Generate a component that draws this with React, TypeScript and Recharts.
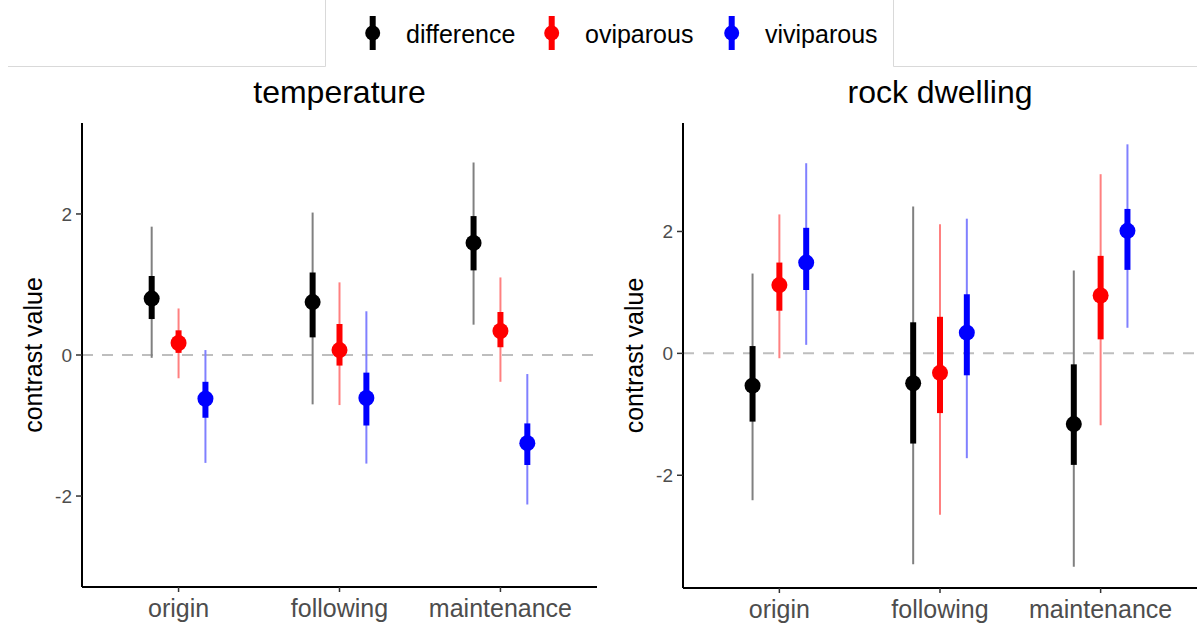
import React from 'react';
import { ErrorBar, ReferenceLine, Scatter, ScatterChart, XAxis, YAxis } from 'recharts';

const FONT = '"Liberation Sans", Arial, Helvetica, sans-serif';

const categories = ['origin', 'following', 'maintenance'];
const groups = ['difference', 'oviparous', 'viviparous'];
const groupColors = ['#000000', '#ff0000', '#0000ff'];
const thinColors = ['#808080', '#ff8080', '#8080ff'];
const yTicks = [-2, 0, 2];

// per category: [estimate, low50, high50, low95, high95]
const tempDifference = [
  [0.8, 0.51, 1.12, -0.04, 1.82],
  [0.75, 0.25, 1.17, -0.7, 2.02],
  [1.59, 1.2, 1.97, 0.43, 2.73],
];
const tempOviparous = [
  [0.17, 0.03, 0.35, -0.33, 0.66],
  [0.07, -0.15, 0.44, -0.71, 1.03],
  [0.34, 0.11, 0.61, -0.38, 1.1],
];
const tempViviparous = [
  [-0.62, -0.89, -0.38, -1.53, 0.07],
  [-0.61, -1.0, -0.25, -1.54, 0.62],
  [-1.25, -1.56, -0.97, -2.12, -0.27],
];

const rockDifference = [
  [-0.53, -1.12, 0.12, -2.41, 1.31],
  [-0.49, -1.48, 0.51, -3.46, 2.41],
  [-1.16, -1.83, -0.18, -3.5, 1.36],
];
const rockOviparous = [
  [1.12, 0.7, 1.49, -0.08, 2.28],
  [-0.32, -0.98, 0.6, -2.65, 2.12],
  [0.95, 0.23, 1.6, -1.18, 2.94],
];
const rockViviparous = [
  [1.49, 1.04, 2.06, 0.14, 3.12],
  [0.34, -0.36, 0.97, -1.72, 2.21],
  [2.01, 1.37, 2.37, 0.42, 3.43],
];

const dodge = [-0.167, 0, 0.167];

function toPoints(rows: number[][], g: number) {
  return rows.map(([mid, lo50, hi50, lo95, hi95], i) => ({
    x: i + 1 + dodge[g],
    y: mid,
    inner: [mid - lo50, hi50 - mid],
    outer: [mid - lo95, hi95 - mid],
  }));
}

type PanelProps = {
  series: number[][][];
  domain: [number, number];
  left: number;
  width: number;
  rightMargin: number;
  xAxisHeight: number;
};

function Panel({ series, domain, left, width, rightMargin, xAxisHeight }: PanelProps) {
  return (
    <div style={{ position: 'absolute', left, top: 110 }}>
      <ScatterChart
        width={width}
        height={514}
        margin={{ top: 13, right: rightMargin, bottom: 0, left: 0 }}
      >
        <XAxis
          type="number"
          dataKey="x"
          domain={[0.4, 3.6]}
          ticks={[1, 2, 3]}
          allowDataOverflow
          tickFormatter={(v: number) => categories[Math.round(v) - 1] ?? ''}
          height={xAxisHeight}
          tickSize={5}
          tickMargin={7}
          axisLine={{ stroke: '#000', strokeWidth: 2 }}
          tickLine={{ stroke: '#333', strokeWidth: 1.5 }}
          tick={{ fill: '#4d4d4d', fontSize: 25, fontFamily: FONT }}
        />
        <YAxis
          type="number"
          dataKey="y"
          domain={domain}
          ticks={yTicks}
          allowDataOverflow
          width={82}
          tickSize={6}
          tickMargin={4}
          axisLine={{ stroke: '#000', strokeWidth: 2 }}
          tickLine={{ stroke: '#333', strokeWidth: 1.5 }}
          tick={{ fill: '#4d4d4d', fontSize: 19, fontFamily: FONT }}
        />
        <ReferenceLine y={0} stroke="#bebebe" strokeWidth={2} strokeDasharray="11 9" />
        {series.map((rows, g) => (
          <Scatter
            key={groups[g]}
            name={groups[g]}
            data={toPoints(rows, g)}
            fill={groupColors[g]}
            isAnimationActive={false}
            shape={(p: any) => <circle cx={p.cx} cy={p.cy} r={8} fill={groupColors[g]} />}
          >
            <ErrorBar
              dataKey="outer"
              direction="y"
              width={0}
              stroke={thinColors[g]}
              strokeWidth={2}
              isAnimationActive={false}
            />
            <ErrorBar
              dataKey="inner"
              direction="y"
              width={0}
              stroke={groupColors[g]}
              strokeWidth={6}
              isAnimationActive={false}
            />
          </Scatter>
        ))}
      </ScatterChart>
    </div>
  );
}

const legendX = [372.7, 551.7, 731.7];

export default function App() {
  return (
    <div
      style={{
        position: 'absolute',
        left: 0,
        top: 0,
        width: 1197,
        height: 624,
        background: '#fff',
        fontFamily: FONT,
      }}
    >
      <Panel
        series={[tempDifference, tempOviparous, tempViviparous]}
        domain={[-3.29, 3.29]}
        left={0}
        width={600}
        rightMargin={3}
        xAxisHeight={37}
      />
      <Panel
        series={[rockDifference, rockOviparous, rockViviparous]}
        domain={[-3.85, 3.78]}
        left={601}
        width={596}
        rightMargin={0}
        xAxisHeight={36}
      />
      <svg
        width={1197}
        height={624}
        style={{ position: 'absolute', left: 0, top: 0, pointerEvents: 'none' }}
        fontFamily={FONT}
      >
        <g stroke="#d9d9d9" strokeWidth={1}>
          <line x1={8} y1={66.5} x2={325.5} y2={66.5} />
          <line x1={325.5} y1={0} x2={325.5} y2={66.5} />
          <line x1={893.5} y1={0} x2={893.5} y2={66.5} />
          <line x1={893.5} y1={66.5} x2={1197} y2={66.5} />
        </g>
        {groups.map((g, i) => (
          <g key={g}>
            <rect x={legendX[i] - 3} y={16} width={6} height={34} fill={groupColors[i]} />
            <circle cx={legendX[i]} cy={33} r={7.5} fill={groupColors[i]} />
            <text x={legendX[i] + 33.3} y={43.3} fontSize={25} fill="#000">
              {g}
            </text>
          </g>
        ))}
        <text x={339.5} y={103} fontSize={32} textAnchor="middle" fill="#000">
          temperature
        </text>
        <text x={940} y={103} fontSize={32} textAnchor="middle" fill="#000">
          rock dwelling
        </text>
        <text x={42} y={355} fontSize={25} textAnchor="middle" fill="#000" transform="rotate(-90 42 355)">
          contrast value
        </text>
        <text x={643} y={355.5} fontSize={25} textAnchor="middle" fill="#000" transform="rotate(-90 643 355.5)">
          contrast value
        </text>
      </svg>
    </div>
  );
}
